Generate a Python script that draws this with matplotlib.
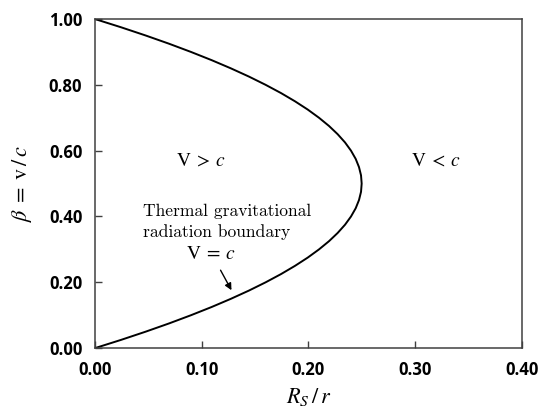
import matplotlib
matplotlib.use("Agg")
import matplotlib.pyplot as plt

# Data: boundary curve V = c
beta = [0.000, 0.025, 0.050, 0.075, 0.100, 0.125, 0.150, 0.175, 0.200, 0.225,
        0.250, 0.275, 0.300, 0.325, 0.350, 0.375, 0.400, 0.425, 0.450, 0.475,
        0.500, 0.525, 0.550, 0.575, 0.600, 0.625, 0.650, 0.675, 0.700, 0.725,
        0.750, 0.775, 0.800, 0.825, 0.850, 0.875, 0.900, 0.925, 0.950, 0.975, 1.000]
rs_over_r = [0.0000, 0.0244, 0.0475, 0.0694, 0.0900, 0.1094, 0.1275, 0.1444, 0.1600, 0.1744,
             0.1875, 0.1994, 0.2100, 0.2194, 0.2275, 0.2344, 0.2400, 0.2444, 0.2475, 0.2494,
             0.2500, 0.2494, 0.2475, 0.2444, 0.2400, 0.2344, 0.2275, 0.2194, 0.2100, 0.1994,
             0.1875, 0.1744, 0.1600, 0.1444, 0.1275, 0.1094, 0.0900, 0.0694, 0.0475, 0.0244, 0.0000]
xticks = [0.00, 0.10, 0.20, 0.30, 0.40]
yticks = [0.00, 0.20, 0.40, 0.60, 0.80, 1.00]

plt.rcParams['mathtext.fontset'] = 'stix'

fig = plt.figure(figsize=(5.39, 4.13), dpi=100)
ax = fig.add_axes([0.176, 0.157, 0.792, 0.797])
ax.plot(rs_over_r, beta, color='black', lw=1.4, solid_joinstyle='round')
ax.set_xlim(0, 0.4)
ax.set_ylim(0, 1.0)
ax.set_xticks(xticks)
ax.set_yticks(yticks)
ax.set_xticklabels([f"{v:.2f}" for v in xticks])
ax.set_yticklabels([f"{v:.2f}" for v in yticks])
ax.tick_params(direction='in', length=5, width=1, color='#404040', pad=9)
for lab in ax.get_xticklabels() + ax.get_yticklabels():
    lab.set_fontfamily('Open Sans')
    lab.set_fontweight('bold')
    lab.set_fontsize(12)
for s in ax.spines.values():
    s.set_color('#404040')
    s.set_linewidth(1.1)

ax.set_xlabel(r'$R_S\,/\,r$', fontsize=16, labelpad=5)
ax.set_ylabel(r'$\beta\;=\;\mathrm{v}\,/\,c$', fontsize=16, labelpad=11)

ax.text(0.0993, 0.571, r'$\mathrm{V}\:>\:c$', fontsize=14, ha='center', va='center')
ax.text(0.319, 0.571, r'$\mathrm{V}\:<\:c$', fontsize=14, ha='center', va='center')
ax.text(0.045, 0.383, 'Thermal gravitational\nradiation boundary', fontfamily='cmr10',
        fontsize=12.6, ha='left', va='center', linespacing=1.4)
ax.annotate(r'$\mathrm{V}\:=\:c$', xy=(0.128, 0.176), xytext=(0.109, 0.289),
            fontsize=14, ha='center', va='center',
            arrowprops=dict(arrowstyle='-|>', color='black', lw=1.0,
                            shrinkA=4, shrinkB=0, mutation_scale=10))

fig.savefig('out.png', dpi=100)
